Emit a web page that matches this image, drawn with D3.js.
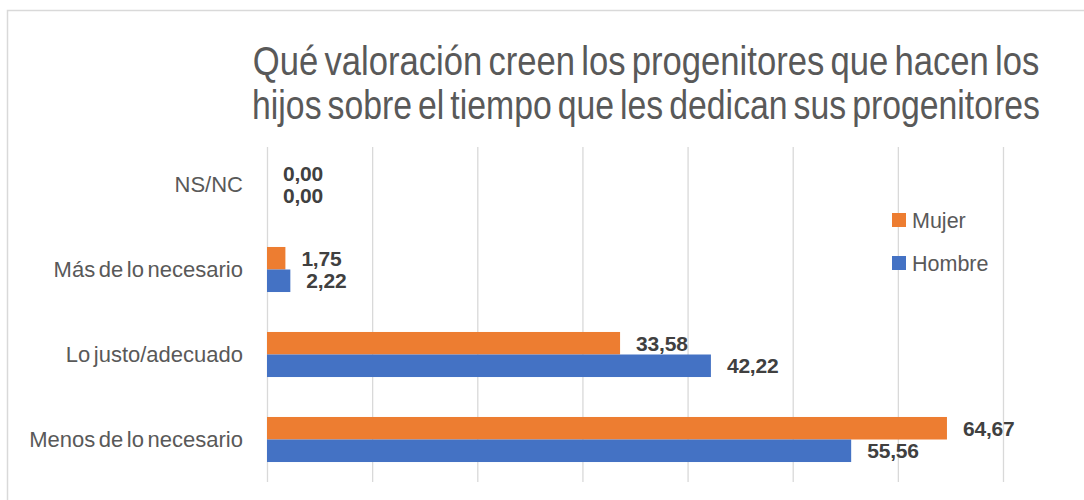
<!DOCTYPE html>
<html><head><meta charset="utf-8">
<script src="https://cdn.jsdelivr.net/npm/d3@7"></script>
<style>body{margin:0;background:#fff}</style>
</head><body>
<svg id="c" width="1084" height="500"></svg>
<script>
const categories = ["NS/NC", "Más de lo necesario", "Lo justo/adecuado", "Menos de lo necesario"];
const seriesNames = ["Mujer", "Hombre"];
const mujer = [0.00, 1.75, 33.58, 64.67];
const hombre = [0.00, 2.22, 42.22, 55.56];
const xTicks = [0, 10, 20, 30, 40, 50, 60, 70];
const titleLines = ["Qué valoración creen los progenitores que hacen los", "hijos sobre el tiempo que les dedican sus progenitores"];
const colors = {Mujer: "#ED7D31", Hombre: "#4472C4"};

const svg = d3.select("#c");
svg.append("rect").attr("x", 7.5).attr("y", 10.5).attr("width", 1090).attr("height", 500)
  .attr("fill", "#fff").attr("stroke", "#d9d9d9").attr("stroke-width", 1.5);

const x = d3.scaleLinear().domain([0, 70]).range([267, 1003]);
const y = d3.scaleBand().domain(categories).range([142, 482]).paddingInner(0.47).paddingOuter(0.235);
const ySub = d3.scaleBand().domain(seriesNames).range([0, y.bandwidth()]);

// gridlines
svg.append("g").selectAll("line").data(xTicks).join("line")
  .attr("x1", d => x(d) + 0.5).attr("x2", d => x(d) + 0.5)
  .attr("y1", 147).attr("y2", 482)
  .attr("stroke", "#d9d9d9").attr("stroke-width", 1.3);

// title (condensed by horizontal scaling to the reference widths)
const titleWidths = [787, 788];
svg.append("g").selectAll("text").data(titleLines).join("text")
  .attr("x", 0).attr("y", 0)
  .attr("text-anchor", "middle")
  .attr("font-family", "'Liberation Sans', Arial, sans-serif")
  .attr("font-size", 40).attr("fill", "#595959").attr("word-spacing", -4)
  .text(d => d)
  .each(function(d, i) {
    const w = this.getComputedTextLength();
    const sx = titleWidths[i] / w;
    d3.select(this).attr("transform", `translate(646, ${75 + i * 44}) scale(${sx}, 1)`);
  });

// category labels
svg.append("g").selectAll("text").data(categories).join("text")
  .attr("x", 243).attr("y", d => y(d) + y.bandwidth() / 2)
  .attr("dy", "0.36em").attr("text-anchor", "end")
  .attr("font-family", "'Liberation Sans', Arial, sans-serif")
  .attr("font-size", 22).attr("fill", "#595959").attr("word-spacing", -2.5)
  .text(d => d);

const rows = [];
categories.forEach((c, i) => {
  rows.push({cat: c, s: "Mujer", v: mujer[i]});
  rows.push({cat: c, s: "Hombre", v: hombre[i]});
});

svg.append("g").selectAll("rect").data(rows).join("rect")
  .attr("x", x(0)).attr("y", d => y(d.cat) + ySub(d.s))
  .attr("width", d => x(d.v) - x(0)).attr("height", ySub.bandwidth())
  .attr("fill", d => colors[d.s]);

const fmt = v => v.toFixed(2).replace(".", ",");
svg.append("g").selectAll("text").data(rows).join("text")
  .attr("x", d => x(d.v) + 16).attr("y", d => y(d.cat) + ySub(d.s) + ySub.bandwidth() / 2)
  .attr("dy", "0.36em")
  .attr("font-family", "'Liberation Sans', Arial, sans-serif").attr("font-weight", "bold")
  .attr("font-size", 21).attr("fill", "#404040").attr("letter-spacing", -0.2)
  .text(d => fmt(d.v));

// legend
const lg = svg.append("g").selectAll("g").data(seriesNames).join("g")
  .attr("transform", (d, i) => `translate(892, ${213 + i * 43})`);
lg.append("rect").attr("width", 14).attr("height", 14).attr("fill", d => colors[d]);
lg.append("text").attr("x", 20).attr("y", 7).attr("dy", "0.36em")
  .attr("font-family", "'Liberation Sans', Arial, sans-serif")
  .attr("font-size", 21.5).attr("fill", "#595959").text(d => d);
</script>
</body></html>
